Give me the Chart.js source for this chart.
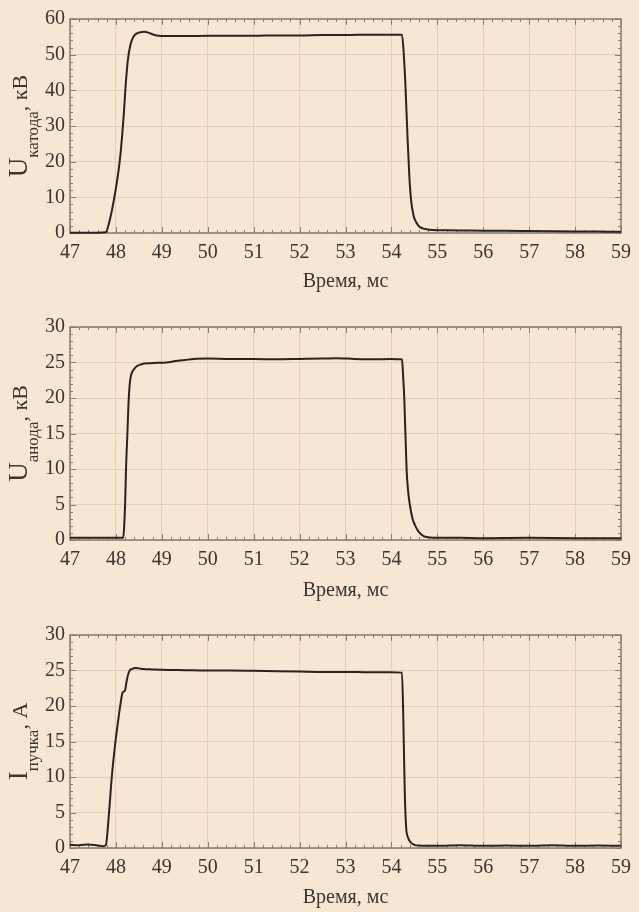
<!DOCTYPE html>
<html><head><meta charset="utf-8">
<script src="https://cdn.jsdelivr.net/npm/chart.js@4"></script>
<style>
html,body{margin:0;padding:0;background:#f6e6d3;}
body{width:639px;height:912px;position:relative;overflow:hidden;}
canvas{position:absolute;left:0;}
</style></head><body>
<canvas id="c1" width="639" height="300" style="top:0px"></canvas>
<canvas id="c2" width="639" height="300" style="top:305px"></canvas>
<canvas id="c3" width="639" height="302" style="top:610px"></canvas>
<script>
// ---- data ----
const xTickLabels = ['47','48','49','50','51','52','53','54','55','56','57','58','59'];
const yTicksCathode = [0,10,20,30,40,50,60];
const yTicksAnode = [0,5,10,15,20,25,30];
const yTicksBeam = [0,5,10,15,20,25,30];
const xTitle = 'Время, мс';

const timeCathode = [47.0,47.3,47.6,47.78,47.85,47.92,47.97,48.02,48.06,48.1,48.13,48.17,48.21,48.26,48.32,48.38,48.45,48.53,48.62,48.72,48.82,48.94,49.2,49.6,50.0,50.5,51.0,51.5,52.0,52.5,53.0,53.5,54.0,54.23,54.27,54.31,54.35,54.39,54.43,54.48,54.54,54.6,54.68,54.78,54.9,55.2,55.6,56.0,56.5,57.0,57.5,58.0,58.5,59.0];
const cathodeKV   = [0.1,0.1,0.1,0.2,2.8,6.8,10.3,14.2,17.8,22.2,26.5,33,41,48.5,53,55,55.9,56.3,56.4,56.1,55.6,55.3,55.2,55.2,55.3,55.3,55.3,55.4,55.4,55.5,55.5,55.6,55.6,55.6,50,40,27,16,9,5,3,1.9,1.3,1.0,0.85,0.75,0.7,0.65,0.6,0.55,0.5,0.45,0.4,0.35];

const timeAnode = [47.0,47.5,48.0,48.16,48.18,48.2,48.22,48.25,48.28,48.31,48.35,48.4,48.46,48.53,48.62,48.75,48.9,49.1,49.3,49.5,49.7,50.0,50.5,51.0,51.5,52.0,52.5,52.8,53.2,53.6,54.0,54.2,54.23,54.26,54.28,54.33,54.37,54.4,54.46,54.52,54.6,54.7,54.8,55.0,55.5,56.0,57.0,58.0,59.0];
const anodeKV   = [0.3,0.3,0.3,0.3,2,5,10,15,20,22.5,23.6,24.1,24.5,24.7,24.85,24.9,24.95,25.0,25.2,25.35,25.5,25.55,25.5,25.5,25.45,25.5,25.55,25.6,25.5,25.45,25.5,25.45,25.4,22.5,20,10,6.5,5,3,2,1.1,0.55,0.4,0.3,0.3,0.25,0.3,0.25,0.25];

const timeBeam = [47.0,47.2,47.4,47.6,47.72,47.78,47.85,47.91,47.99,48.05,48.1,48.14,48.16,48.2,48.22,48.26,48.3,48.35,48.42,48.5,48.6,48.8,49.0,49.5,50.0,50.5,51.0,51.5,52.0,52.5,53.0,53.5,54.0,54.23,54.26,54.29,54.32,54.36,54.42,54.5,54.6,55.0,55.5,56.0,56.5,57.0,57.5,58.0,58.5,59.0];
const beamA   = [0.45,0.4,0.5,0.35,0.25,0.4,5,10,15,18,20.3,21.8,22,22.2,23,24.3,25.0,25.2,25.35,25.3,25.2,25.15,25.1,25.05,25.0,25.0,24.95,24.9,24.85,24.8,24.8,24.75,24.75,24.7,18,8,3,1.5,0.8,0.45,0.35,0.3,0.4,0.3,0.35,0.3,0.4,0.3,0.35,0.3];

// ---- styling ----
const BG = '#f6e6d3', GRID = '#e2cfbb', FRAME = '#857b73', TXT = '#3a3531', LINE = '#2a2320';
const FONT = '"Liberation Serif", "Times New Roman", serif';

const framePlugin = {
  id: 'frame',
  beforeDraw(chart) {
    const c = chart.ctx; c.save(); c.fillStyle = BG; c.fillRect(0,0,chart.width,chart.height); c.restore();
  },
  beforeDatasetsDraw(chart, args, opts) {
    const {ctx, chartArea: a, scales: {x, y}} = chart;
    ctx.save();
    ctx.strokeStyle = FRAME; ctx.lineWidth = 1;
    ctx.beginPath();
    const xMin = x.min, xMax = x.max;
    for (let i = 0; i <= Math.round((xMax - xMin) / opts.xMinor); i++) {
      const v = xMin + i * opts.xMinor;
      const px = Math.round(x.getPixelForValue(v)) + 0.5;
      const major = i % opts.xSub === 0;
      const L = major ? 6 : 3;
      ctx.moveTo(px, a.bottom); ctx.lineTo(px, a.bottom - L);
      ctx.moveTo(px, a.top); ctx.lineTo(px, a.top + L);
    }
    for (let i = 0; i <= Math.round((y.max - y.min) / opts.yMinor); i++) {
      const v = y.min + i * opts.yMinor;
      const py = Math.round(y.getPixelForValue(v)) + 0.5;
      const major = i % opts.ySub === 0;
      const L = major ? 6 : 3;
      ctx.moveTo(a.left, py); ctx.lineTo(a.left + L, py);
      ctx.moveTo(a.right, py); ctx.lineTo(a.right - L, py);
    }
    ctx.stroke();
    ctx.lineWidth = 1.5;
    ctx.strokeRect(a.left, a.top, a.right - a.left, a.bottom - a.top);
    ctx.restore();
  },
  afterDraw(chart, args, opts) {
    const {ctx, chartArea: a} = chart;
    const cy = (a.top + a.bottom) / 2;
    ctx.save();
    ctx.fillStyle = TXT;
    ctx.translate(27, cy);
    ctx.rotate(-Math.PI / 2);
    ctx.textBaseline = 'alphabetic';
    ctx.textAlign = 'left';
    const fMain = '27px ' + FONT, fSub = '17px ' + FONT, fRest = '22px ' + FONT;
    ctx.font = fMain; const w1 = ctx.measureText(opts.main).width;
    ctx.font = fSub;  const w2 = ctx.measureText(opts.sub).width;
    ctx.font = fRest; const w3 = ctx.measureText(opts.rest).width;
    let x0 = -(w1 + w2 + w3) / 2;
    ctx.font = fMain; ctx.fillText(opts.main, x0, 0); x0 += w1;
    ctx.font = fSub; ctx.fillText(opts.sub, x0, 11); x0 += w2;
    ctx.font = fRest; ctx.fillText(opts.rest, x0, 0);
    ctx.restore();
  }
};

function makeChart(id, times, values, yTicks, yMinor, ySub, label, padTop, axisH, titlePad) {
  const yMax = yTicks[yTicks.length - 1];
  const step = yTicks[1] - yTicks[0];
  return new Chart(document.getElementById(id), {
    type: 'line',
    data: { datasets: [{
      data: times.map((t, i) => ({x: t, y: values[i]})),
      borderColor: LINE, borderWidth: 2, pointRadius: 0,
      cubicInterpolationMode: 'monotone', clip: 3, fill: false
    }]},
    options: {
      responsive: false, animation: false,
      layout: { padding: { top: padTop, right: 13, left: 0, bottom: 0 } },
      plugins: { legend: { display: false }, tooltip: { enabled: false },
        frame: { xMinor: 0.2, xSub: 5, yMinor: yMinor, ySub: ySub, main: label[0], sub: label[1], rest: label[2] } },
      scales: {
        x: {
          type: 'linear', min: 47, max: 59,
          afterFit(s) { s.height = axisH; },
          ticks: { stepSize: 1, color: TXT, font: { family: FONT, size: 20 }, padding: 8,
                   callback: (v) => xTickLabels[Math.round(v - 47)] ?? '' },
          grid: { color: GRID, lineWidth: 1, drawTicks: false },
          border: { display: false },
          title: { display: true, text: xTitle, color: TXT, font: { family: FONT, size: 20 }, padding: { top: 0, bottom: titlePad } }
        },
        y: {
          min: 0, max: yMax,
          afterFit(s) { s.width = 70; },
          ticks: { stepSize: step, color: TXT, font: { family: FONT, size: 20 }, padding: 5,
                   callback: (v) => { const k = yTicks.indexOf(v); return k >= 0 ? String(yTicks[k]) : ''; } },
          grid: { color: GRID, lineWidth: 1, drawTicks: false },
          border: { display: false }
        }
      }
    },
    plugins: [framePlugin]
  });
}

makeChart('c1', timeCathode, cathodeKV, yTicksCathode, 2, 5, ['U', 'катода', ', кВ'], 19, 67, 6);
makeChart('c2', timeAnode, anodeKV, yTicksAnode, 1, 5, ['U', 'анода', ', кВ'], 22, 65, 2);
makeChart('c3', timeBeam, beamA, yTicksBeam, 1, 5, ['I', 'пучка', ', А'], 25, 64, 2);
</script>
</body></html>
